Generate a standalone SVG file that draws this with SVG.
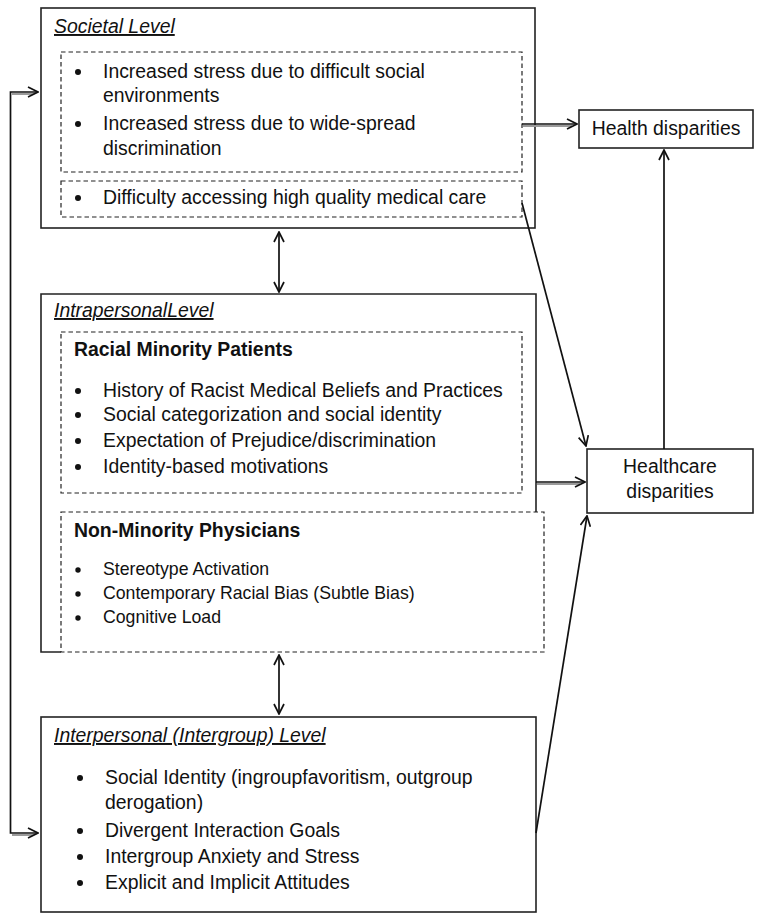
<svg xmlns="http://www.w3.org/2000/svg" width="762" height="921" viewBox="0 0 762 921">
<style>
text{font-family:"Liberation Sans",Arial,sans-serif;font-size:19.4px;fill:#111}
.t{font-style:italic;text-decoration:underline}
.b{font-weight:bold}
.s{font-size:17.7px}
.box{fill:none;stroke:#222;stroke-width:1.6}
.dash{fill:none;stroke:#222;stroke-width:1.2;stroke-dasharray:4.5 3}
.ln{fill:none;stroke:#111;stroke-width:1.7}
.sh{fill:none;stroke:#9a9a9a;stroke-width:2}
.bul{fill:#111}
</style>
<defs>
<marker id="ah" markerUnits="userSpaceOnUse" viewBox="0 0 12 12" refX="11" refY="6" markerWidth="12" markerHeight="12" orient="auto-start-reverse">
<path d="M1,1 L11,6 L1,11" fill="none" stroke="#111" stroke-width="1.7"/>
</marker>
</defs>
<rect width="762" height="921" fill="#fff"/>

<g id="societal">
<rect class="box" x="41" y="8" width="494" height="220"/>
<text class="t" x="54" y="33">Societal Level</text>
<rect class="dash" x="61" y="52" width="461" height="120"/>
<rect class="dash" x="61" y="181" width="461" height="36"/>
<circle class="bul" cx="78" cy="72" r="3"/>
<text x="103" y="78">Increased stress due to difficult social</text>
<text x="103" y="102">environments</text>
<circle class="bul" cx="78" cy="124" r="3"/>
<text x="103" y="130">Increased stress due to wide-spread</text>
<text x="103" y="155">discrimination</text>
<circle class="bul" cx="78" cy="198" r="3"/>
<text x="103" y="204">Difficulty accessing high quality medical care</text>
</g>

<g id="health">
<rect class="box" x="579" y="110" width="174" height="38"/>
<text x="666" y="135" text-anchor="middle">Health disparities</text>
</g>

<g id="intrapersonal">
<path class="box" d="M61,652 H41 V294 H536 V512"/>
<text class="t" x="54" y="317">IntrapersonalLevel</text>
<rect class="dash" x="61" y="332" width="461" height="161"/>
<text class="b" x="74" y="356">Racial Minority Patients</text>
<circle class="bul" cx="78" cy="391" r="3"/>
<text x="103" y="397">History of Racist Medical Beliefs and Practices</text>
<circle class="bul" cx="78" cy="415" r="3"/>
<text x="103" y="421">Social categorization and social identity</text>
<circle class="bul" cx="78" cy="441" r="3"/>
<text x="103" y="447">Expectation of Prejudice/discrimination</text>
<circle class="bul" cx="78" cy="467" r="3"/>
<text x="103" y="473">Identity-based motivations</text>
<rect class="dash" x="61" y="512" width="483" height="140"/>
<text class="b" x="74" y="537">Non-Minority Physicians</text>
<circle class="bul" cx="78" cy="570" r="2.7"/>
<text class="s" x="103" y="575">Stereotype Activation</text>
<circle class="bul" cx="78" cy="594" r="2.7"/>
<text class="s" x="103" y="599">Contemporary Racial Bias (Subtle Bias)</text>
<circle class="bul" cx="78" cy="618" r="2.7"/>
<text class="s" x="103" y="623">Cognitive Load</text>
</g>

<g id="healthcare">
<rect class="box" x="587" y="449" width="166" height="64"/>
<text x="670" y="473" text-anchor="middle">Healthcare</text>
<text x="670" y="498" text-anchor="middle">disparities</text>
</g>

<g id="interpersonal">
<rect class="box" x="41" y="717" width="495" height="195"/>
<text class="t" x="54" y="742">Interpersonal (Intergroup) Level</text>
<circle class="bul" cx="80" cy="778" r="3"/>
<text x="105" y="784">Social Identity (ingroupfavoritism, outgroup</text>
<text x="105" y="809">derogation)</text>
<circle class="bul" cx="80" cy="831" r="3"/>
<text x="105" y="837">Divergent Interaction Goals</text>
<circle class="bul" cx="80" cy="857" r="3"/>
<text x="105" y="863">Intergroup Anxiety and Stress</text>
<circle class="bul" cx="80" cy="883" r="3"/>
<text x="105" y="889">Explicit and Implicit Attitudes</text>
</g>

<g id="connectors">
<path class="sh" d="M523,126 H572"/>
<path class="ln" d="M522,124 H577" marker-end="url(#ah)"/>
<path class="sh" d="M537,484 H580"/>
<path class="ln" d="M536,482 H585" marker-end="url(#ah)"/>
<path class="sh" d="M12,94 H34"/>
<path class="sh" d="M12,835 H34"/>
<path class="ln" d="M38,92 H10.5 V833 H38" marker-start="url(#ah)" marker-end="url(#ah)"/>
<path class="ln" d="M279,232 V292" marker-start="url(#ah)" marker-end="url(#ah)"/>
<path class="ln" d="M279,655 V714" marker-start="url(#ah)" marker-end="url(#ah)"/>
<path class="ln" d="M522,203 L586,446" marker-end="url(#ah)"/>
<path class="ln" d="M664,449 V150" marker-end="url(#ah)"/>
<path class="ln" d="M536,833 L587,516" marker-end="url(#ah)"/>
</g>
</svg>
